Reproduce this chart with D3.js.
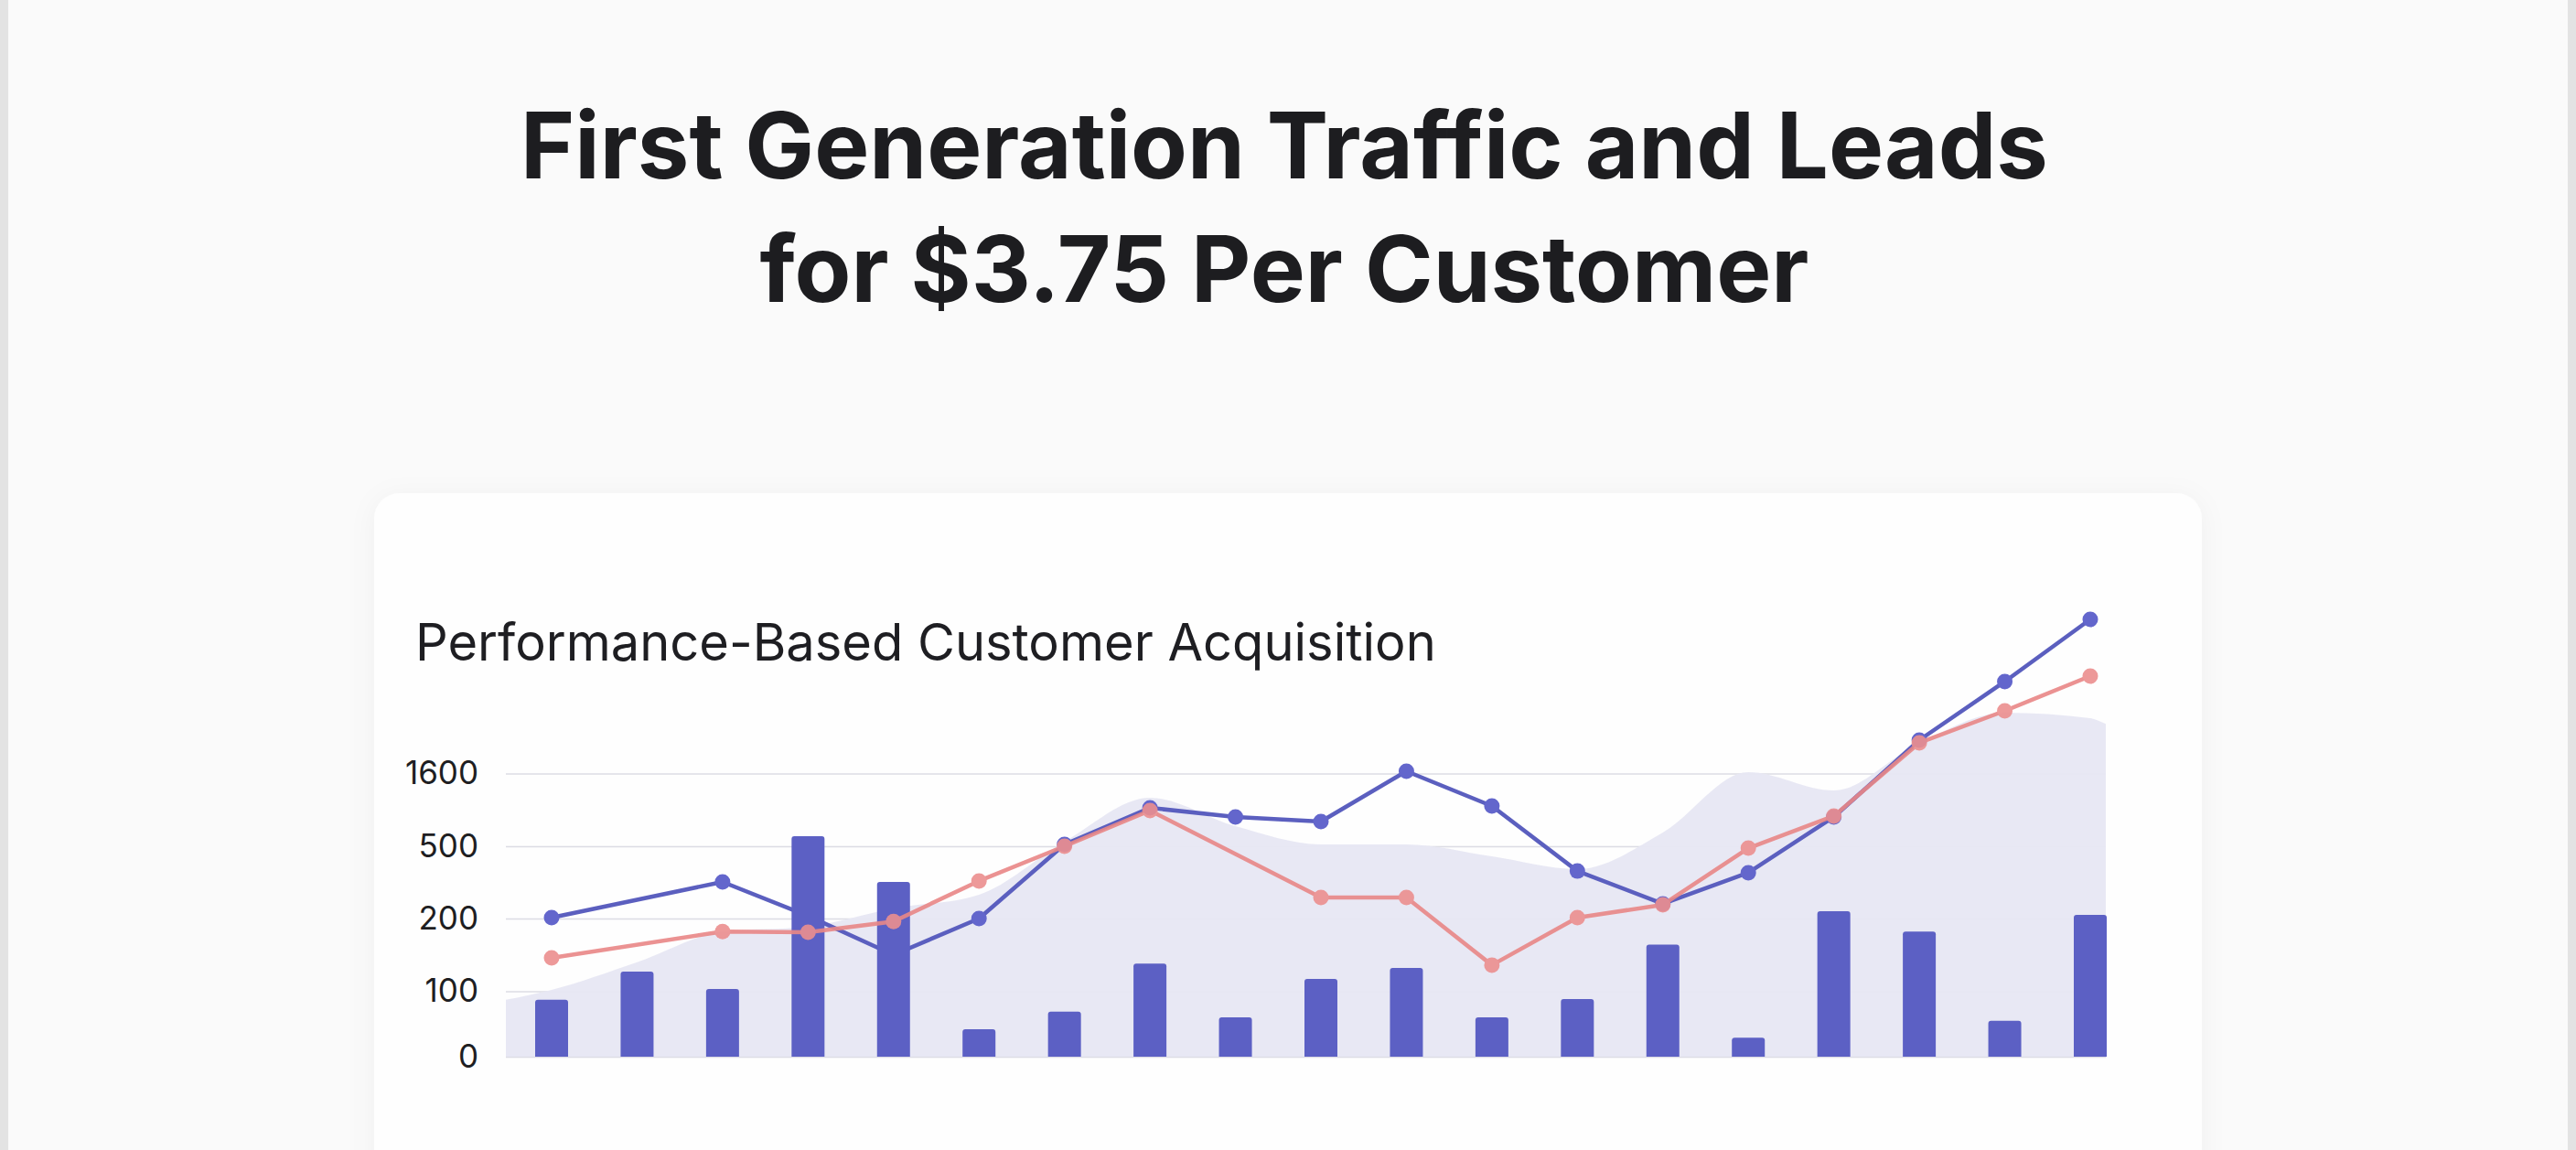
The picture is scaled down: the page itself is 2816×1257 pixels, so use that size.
<!DOCTYPE html>
<html>
<head>
<meta charset="utf-8">
<script src="https://cdn.jsdelivr.net/npm/d3@7"></script>
<style>
  html, body { margin: 0; padding: 0; background: #fafafa; overflow: hidden; }
  svg { display: block; }
</style>
</head>
<body>
<svg id="chart" width="2816" height="1257"></svg>
<script>
// ---- data ----
const categories = ["P1","P2","P3","P4","P5","P6","P7","P8","P9","P10","P11","P12","P13","P14","P15","P16","P17","P18","P19"];
const customers = [87, 127, 103, 652, 352, 42, 69, 138, 60, 117, 132, 60, 88, 164, 29, 230, 182, 55, 215];
const traffic   = [204, null, 352, 211, 150, 200, 528, 1081, 943, 874, 1635, 1109, 397, 261, 390, 943, 2105, 2991, 3932];
const leads     = [146, null, 182, 181, 196, 356, 500, 1040, null, 287, 287, 136, 204, 257, 492, 957, 2064, 2548, 3074];
const reach     = [102, 140, 182, 189, 242, 299, 569, 1233, 804, 528, 528, 458, 405, 708, 1621, 1344, 2064, 2520, 2437];
const reachEdges = [87, 2350];
const yTicks = [0, 100, 200, 500, 1600];
const titleLines = ["First Generation Traffic and Leads", "for $3.75 Per Customer"];
const subtitle = "Performance-Based Customer Acquisition";

// ---- layout ----
const W = 2816, H = 1257;
const svg = d3.select("#chart");
const defs = svg.append("defs");

const shadow = defs.append("filter").attr("id", "shadow")
  .attr("x", "-10%").attr("y", "-10%").attr("width", "120%").attr("height", "130%");
shadow.append("feDropShadow").attr("dx", 0).attr("dy", 4).attr("stdDeviation", 14)
  .attr("flood-color", "#000").attr("flood-opacity", 0.045);

// page background
svg.append("rect").attr("width", W).attr("height", H).attr("fill", "#fafafa");
svg.append("rect").attr("x", 0).attr("y", 0).attr("width", 9).attr("height", H).attr("fill", "#e3e3e3");
svg.append("rect").attr("x", W - 9).attr("y", 0).attr("width", 9).attr("height", H).attr("fill", "#e3e3e3");

// title
svg.append("g").selectAll("text").data(titleLines).join("text")
  .attr("x", W / 2 - 4).attr("y", (d, i) => 195 + i * 135)
  .attr("text-anchor", "middle")
  .attr("font-family", "Inter, 'Noto Sans', sans-serif")
  .attr("font-weight", 700).attr("font-size", 101)
  .attr("fill", "#1d1d20")
  .text(d => d);

// card
svg.append("rect").attr("x", 409).attr("y", 539).attr("width", 1998).attr("height", 800)
  .attr("rx", 28).attr("fill", "#fefefe").attr("filter", "url(#shadow)");

svg.append("text").attr("x", 454).attr("y", 722)
  .attr("font-family", "Inter, 'Noto Sans', sans-serif")
  .attr("font-size", 56).attr("fill", "#1e1e22")
  .text(subtitle);

// scales
const plotLeft = 553, plotRight = 2302;
const x = d3.scalePoint().domain(categories).range([603, 2285]);
const y = d3.scaleLinear().domain(yTicks).range([1155, 1083.5, 1004, 925, 845.5]);

// gridlines
const grid = svg.append("g").attr("transform", `translate(${plotLeft},0)`)
  .call(d3.axisLeft(y).tickValues(yTicks).tickSize(-(plotRight - plotLeft)).tickFormat(""));
grid.select(".domain").remove();
grid.selectAll(".tick line").attr("stroke", "#dcdce4").attr("stroke-width", 1.6);

// y axis labels
const yAxis = svg.append("g").attr("transform", "translate(523,0)")
  .call(d3.axisLeft(y).tickValues(yTicks).tickSize(0).tickPadding(0).tickFormat(d3.format("d")));
yAxis.select(".domain").remove();
yAxis.selectAll("text")
  .attr("font-family", "Inter, 'Noto Sans', sans-serif")
  .attr("font-size", 35).attr("fill", "#1e1e22");

// area background
const areaPts = [{px: plotLeft, v: reachEdges[0]}]
  .concat(categories.map((c, i) => ({px: x(c), v: reach[i]})))
  .concat([{px: plotRight, v: reachEdges[1]}]);
const area = d3.area().x(d => d.px).y0(y(0)).y1(d => y(d.v)).curve(d3.curveMonotoneX);
svg.append("path").datum(areaPts).attr("d", area).attr("fill", "#e7e7f3").attr("opacity", 0.95);

function drawSeries(values, color, dotColor, opacity) {
  const pts = categories.map((c, i) => ({c, v: values[i]})).filter(d => d.v != null);
  const g = svg.append("g").attr("opacity", opacity);
  g.append("path").datum(pts)
    .attr("d", d3.line().x(d => x(d.c)).y(d => y(d.v)))
    .attr("fill", "none").attr("stroke", color).attr("stroke-width", 4.5)
    .attr("stroke-linejoin", "round");
  g.selectAll("circle").data(pts).join("circle")
    .attr("cx", d => x(d.c)).attr("cy", d => y(d.v)).attr("r", 8.5)
    .attr("fill", dotColor);
}

// traffic line (under bars)
drawSeries(traffic, "#5b5fbf", "#6366cc", 1);

// bars
const barW = 36;
svg.append("g").selectAll("path").data(categories).join("path")
  .attr("d", (c, i) => {
    const x0 = x(c) - barW / 2, top = y(customers[i]), bot = y(0), r = 3;
    return `M${x0},${bot}V${top + r}Q${x0},${top} ${x0 + r},${top}H${x0 + barW - r}Q${x0 + barW},${top} ${x0 + barW},${top + r}V${bot}Z`;
  })
  .attr("fill", "#5c60c4");

// leads line (over bars)
drawSeries(leads, "#e98787", "#ec8f8f", 0.9);
</script>
</body>
</html>
